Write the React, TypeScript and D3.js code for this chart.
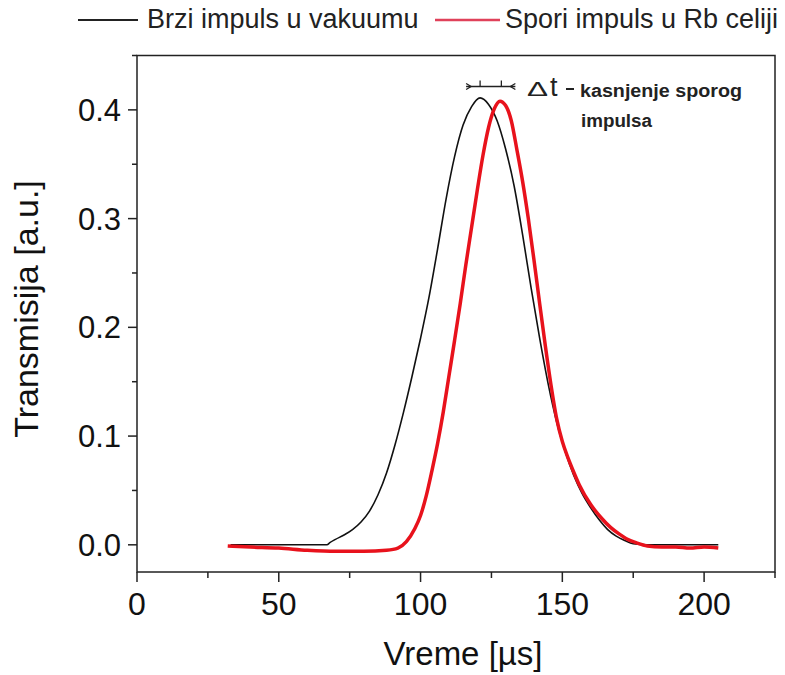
import React from "react";
import * as d3 from "d3";

// ---- data ----
const fastX = [33, 45, 55, 67, 68, 70, 73, 76, 79, 82, 85, 88, 91, 94, 97, 100, 103, 106, 109, 112, 115, 118, 121, 124, 127, 130, 133, 136, 139, 142, 145, 148, 151, 154, 157, 160, 163, 166, 169, 172, 175, 180, 190, 205];
const fastY = [0, 0, 0, 0, 0.002, 0.005, 0.009, 0.014, 0.021, 0.031, 0.046, 0.066, 0.092, 0.122, 0.155, 0.19, 0.228, 0.272, 0.318, 0.357, 0.386, 0.403, 0.411, 0.405, 0.39, 0.364, 0.33, 0.285, 0.236, 0.19, 0.148, 0.113, 0.086, 0.064, 0.047, 0.034, 0.023, 0.014, 0.008, 0.004, 0.001, 0, 0, 0];

const slowX = [32, 40, 50, 60, 70, 80, 88, 92, 95, 98, 100, 102, 104, 106, 108, 110, 112, 114, 116, 118, 120, 122, 124, 126, 128, 130, 132, 134, 136, 138, 140, 142, 144, 146, 148, 150, 152, 154, 156, 160, 164, 167, 170, 173, 176, 180, 185, 190, 195, 200, 205];
const slowY = [-0.001, -0.002, -0.003, -0.005, -0.006, -0.006, -0.005, -0.003, 0.003, 0.015, 0.027, 0.045, 0.068, 0.093, 0.122, 0.155, 0.188, 0.222, 0.258, 0.292, 0.326, 0.358, 0.384, 0.401, 0.408, 0.404, 0.39, 0.363, 0.334, 0.3, 0.262, 0.222, 0.183, 0.147, 0.116, 0.095, 0.08, 0.067, 0.055, 0.037, 0.024, 0.016, 0.01, 0.005, 0.002, -0.001, -0.002, -0.002, -0.003, -0.002, -0.003];

const xTicks = [0, 50, 100, 150, 200];
const xMinor = [25, 75, 125, 175, 225];
const yTicks = [0, 0.1, 0.2, 0.3, 0.4];
const yMinor = [0.05, 0.15, 0.25, 0.35, 0.45];

const legendLabels = ["Brzi impuls u vakuumu", "Spori impuls u Rb celiji"];
const xTitle = "Vreme [µs]";
const yTitle = "Transmisija [a.u.]";
const noteDelta = "Δ";
const noteT = "t";
const noteLine1 = "kasnjenje sporog";
const noteLine2 = "impulsa";

const W = 785;
const H = 675;
const FONT = "'Liberation Sans', Arial, sans-serif";
const RED = "#e8121c";

export default function App() {
  const x = d3.scaleLinear().domain([0, 225]).range([137, 775]);
  const y = d3.scaleLinear().domain([-0.025, 0.45]).range([572, 55.5]);

  const fast = fastX.map((v, i) => [v, fastY[i]] as [number, number]);
  const slow = slowX.map((v, i) => [v, slowY[i]] as [number, number]);
  const line = d3
    .line<[number, number]>()
    .x((d) => x(d[0]))
    .y((d) => y(d[1]))
    .curve(d3.curveMonotoneX);

  const [x0, x1] = x.range();
  const [yb, yt] = y.range();

  // annotation positions from peak locations
  const pFast = x(121);
  const pSlow = x(128.5);
  const aY = 86.5;

  return (
    <svg width={W} height={H} style={{ display: "block", position: "absolute", left: 0, top: 0 }}>
      <rect x={0} y={0} width={W} height={H} fill="#fff" />
      {/* legend */}
      <line x1={78} x2={138} y1={20} y2={20} stroke="#222" strokeWidth={2} />
      <text x={147} y={28} fontFamily={FONT} fontSize={27} fill="#222">{legendLabels[0]}</text>
      <line x1={435} x2={500} y1={20} y2={20} stroke="#e0415a" strokeWidth={2.5} />
      <text x={505} y={28} fontFamily={FONT} fontSize={27} fill="#222">{legendLabels[1]}</text>

      {/* curves */}
      <path d={line(fast) || ""} fill="none" stroke="#111" strokeWidth={1.6} />
      <path d={line(slow) || ""} fill="none" stroke={RED} strokeWidth={3.5} strokeLinejoin="round" />

      {/* frame */}
      <rect x={x0} y={yt} width={x1 - x0} height={yb - yt} fill="none" stroke="#222" strokeWidth={1.5} />

      {/* x ticks */}
      {xTicks.map((t) => (
        <g key={"xt" + t}>
          <line x1={x(t)} x2={x(t)} y1={yb} y2={yb + 10} stroke="#222" strokeWidth={1.5} />
          <text x={x(t)} y={615} textAnchor="middle" fontFamily={FONT} fontSize={32} fill="#111">{t}</text>
        </g>
      ))}
      {xMinor.map((t) => (
        <line key={"xm" + t} x1={x(t)} x2={x(t)} y1={yb} y2={yb + 6} stroke="#222" strokeWidth={1.5} />
      ))}

      {/* y ticks */}
      {yTicks.map((t) => (
        <g key={"yt" + t}>
          <line x1={x0 - 9} x2={x0} y1={y(t)} y2={y(t)} stroke="#222" strokeWidth={1.5} />
          <text x={121} y={y(t) + 11} textAnchor="end" fontFamily={FONT} fontSize={31} fill="#111">{t.toFixed(1)}</text>
        </g>
      ))}
      {yMinor.map((t) => (
        <line key={"ym" + t} x1={x0 - 5} x2={x0} y1={y(t)} y2={y(t)} stroke="#222" strokeWidth={1.5} />
      ))}

      {/* axis titles */}
      <text x={463} y={665} textAnchor="middle" fontFamily={FONT} fontSize={33} fill="#111">{xTitle}</text>
      <text transform={`translate(38,309) rotate(-90)`} textAnchor="middle" fontFamily={FONT} fontSize={34} fill="#111">{yTitle}</text>

      {/* delay annotation */}
      <g stroke="#222" strokeWidth={1.3} fill="none">
        <line x1={pFast - 14} x2={pSlow + 14} y1={aY} y2={aY} />
        <line x1={pFast} x2={pFast} y1={aY - 6} y2={aY} />
        <line x1={pSlow} x2={pSlow} y1={aY - 6} y2={aY} />
        <path d={`M${pFast - 14},${aY - 3} L${pFast - 9},${aY} L${pFast - 14},${aY + 3}`} />
        <path d={`M${pSlow + 14},${aY - 3} L${pSlow + 9},${aY} L${pSlow + 14},${aY + 3}`} />
      </g>
      <text transform="translate(527,96) scale(1.5,1)" fontFamily={FONT} fontSize={21} fill="#222">{noteDelta}</text>
      <text x={550} y={96} fontFamily={FONT} fontSize={27} fill="#222">{noteT}</text>
      <line x1={566} x2={574} y1={89} y2={89} stroke="#222" strokeWidth={2} />
      <text x={580} y={97} fontFamily={FONT} fontSize={18} fontWeight="bold" fill="#222" textLength={162} lengthAdjust="spacingAndGlyphs">{noteLine1}</text>
      <text x={581} y={127} fontFamily={FONT} fontSize={18} fontWeight="bold" fill="#222" textLength={71} lengthAdjust="spacingAndGlyphs">{noteLine2}</text>
    </svg>
  );
}
